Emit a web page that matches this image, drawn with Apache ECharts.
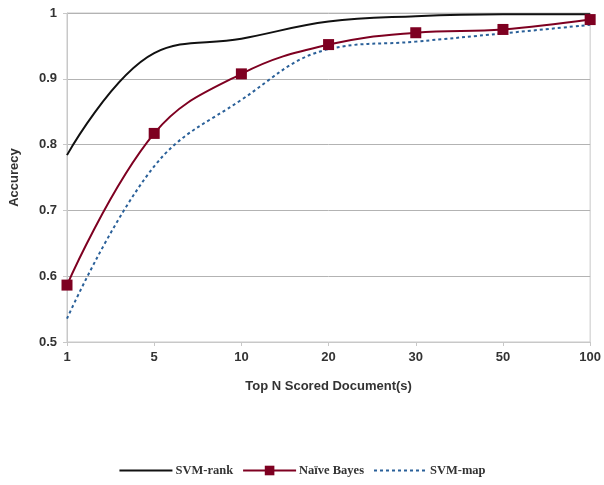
<!DOCTYPE html>
<html><head><meta charset="utf-8">
<script src="https://cdn.jsdelivr.net/npm/echarts@6/dist/echarts.min.js"></script>
<style>html,body{margin:0;padding:0;background:#fff}#c{width:604px;height:485px}</style>
</head><body><div id="c"></div>
<script>
const categories = ['1','5','10','20','30','50','100'];
const svmRank = [0.784, 0.939, 0.961, 0.987, 0.995, 0.998, 0.998];
const naiveBayes = [0.5865, 0.817, 0.9075, 0.952, 0.970, 0.975, 0.990];
const svmMap = [0.5355, 0.767, 0.868, 0.945, 0.9565, 0.969, 0.982];
const yTicks = [0.5, 0.6, 0.7, 0.8, 0.9, 1];

const chart = echarts.init(document.getElementById('c'));
const lab = {fontFamily:'Liberation Sans', fontWeight:'bold', fontSize:13, color:'#333'};
chart.setOption({
  animation:false,
  grid:{left:67, right:11, top:13, bottom:143, show:true, borderColor:'#c8c8c8', borderWidth:1},
  legend:{
    bottom:3, left:'center', itemWidth:53, itemHeight:12, itemGap:9,
    textStyle:{fontFamily:'Liberation Serif', fontWeight:'bold', fontSize:12.5, color:'#333', padding:[0,0,0,-2]},
    data:[
      {name:'SVM-rank', itemStyle:{opacity:0}},
      {name:'Naïve Bayes'},
      {name:'SVM-map', itemStyle:{opacity:0}}
    ]
  },
  xAxis:{
    type:'category', data:categories, boundaryGap:false,
    name:'Top N Scored Document(s)', nameLocation:'middle', nameGap:38,
    nameTextStyle:lab,
    axisLine:{lineStyle:{color:'#c8c8c8'}},
    axisTick:{show:true, length:4, lineStyle:{color:'#c8c8c8'}},
    axisLabel:Object.assign({margin:9}, lab),
    splitLine:{show:false}
  },
  yAxis:{
    type:'value', min:0.5, max:1, interval:0.1,
    name:'Accurecy', nameLocation:'middle', nameGap:46, nameRotate:90,
    nameTextStyle:lab,
    axisLine:{show:true, lineStyle:{color:'#c8c8c8'}},
    axisTick:{show:true, length:4, lineStyle:{color:'#c8c8c8'}},
    axisLabel:Object.assign({margin:10, formatter:v=>{const t=yTicks.find(x=>Math.abs(x-v)<1e-9);return t===undefined?'':String(t);}}, lab),
    splitLine:{lineStyle:{color:'#b3b3b3'}}
  },
  series:[
    {name:'SVM-rank', type:'line', data:svmRank, smooth:0.4, symbol:'none',
     lineStyle:{color:'#111', width:2}, itemStyle:{color:'#111'}},
    {name:'Naïve Bayes', type:'line', data:naiveBayes, smooth:0.4, symbol:'rect', symbolSize:11,
     lineStyle:{color:'#7e0021', width:2}, itemStyle:{color:'#7e0021'}},
    {name:'SVM-map', type:'line', data:svmMap, smooth:0.4, symbol:'none',
     lineStyle:{color:'#2a6099', width:2, type:[3,3]}, itemStyle:{color:'#2a6099'}}
  ]
});
</script></body></html>
